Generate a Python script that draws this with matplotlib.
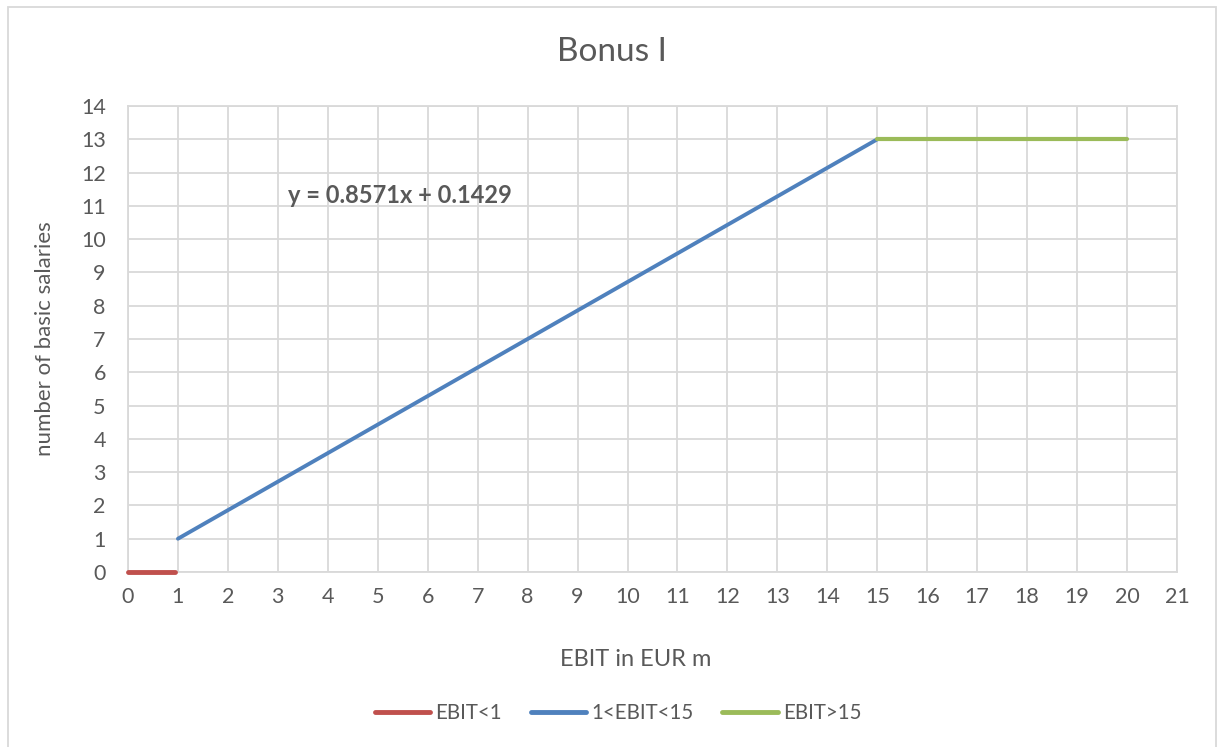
import matplotlib.pyplot as plt
from matplotlib.patches import Rectangle

# series data
low_x = [0, 0.95]
low_y = [0, 0]
mid_x = [1, 15]
mid_y = [1, 13]
high_x = [15, 20]
high_y = [13, 13]
labels = ["EBIT<1", "1<EBIT<15", "EBIT>15"]
colors = ["#C0504D", "#4F81BD", "#9BBB59"]
x_ticks = list(range(0, 22))
y_ticks = list(range(0, 15))
trend_text = "y = 0.8571x + 0.1429"

plt.rcParams["font.family"] = ["Lato", "DejaVu Sans"]
txt = "#595959"
grid_c = "#D9D9D9"

fig = plt.figure(figsize=(12.18, 7.47), dpi=100)
W, H = 1218, 747
ax = fig.add_axes([128 / W, 1 - 572 / H, (1177 - 128) / W, (572 - 106) / H])

ax.plot(low_x, low_y, color=colors[0], lw=3.5, solid_capstyle="round", label=labels[0],
        zorder=3, clip_on=False)
ax.plot(mid_x, mid_y, color=colors[1], lw=2.8, solid_capstyle="round", label=labels[1], zorder=3)
ax.plot(high_x, high_y, color=colors[2], lw=3.0, solid_capstyle="round", label=labels[2], zorder=3)

ax.set_xlim(0, 21)
ax.set_ylim(0, 14)
ax.set_xticks(x_ticks)
ax.set_yticks(y_ticks)
ax.grid(True, color=grid_c, lw=1.3)
ax.set_axisbelow(True)
for s in ax.spines.values():
    s.set_color(grid_c)
    s.set_linewidth(1.3)
ax.tick_params(length=0, labelsize=15.5, colors=txt)
ax.tick_params(axis="y", pad=16)
ax.tick_params(axis="x", pad=11)

ax.text(3.2, 11.3, trend_text, fontsize=17, fontweight="bold", color=txt, va="center", ha="left")

fig.text(612 / W, 1 - 52 / H, "Bonus I", fontsize=24, color=txt, ha="center", va="center")
fig.text(45 / W, 1 - 339 / H, "number of basic salaries", fontsize=16, color=txt,
         ha="center", va="center", rotation=90)
fig.text(636 / W, 1 - 660 / H, "EBIT in EUR m", fontsize=17, color=txt, ha="center", va="center")

leg = fig.legend(loc="center", bbox_to_anchor=(618 / W, 1 - 713 / H), ncol=3, frameon=False,
                 fontsize=14.8, handlelength=2.7, columnspacing=1.4, handletextpad=0.25)
for t in leg.get_texts():
    t.set_color(txt)
for h in leg.get_lines():
    h.set_linewidth(3.5)

fig.patches.append(Rectangle((8 / W, -0.01), (1216 - 8) / W, 1 - 7 / H + 0.01,
                             transform=fig.transFigure, fill=False, ec=grid_c, lw=1.3))

fig.savefig("out.png", dpi=100)
